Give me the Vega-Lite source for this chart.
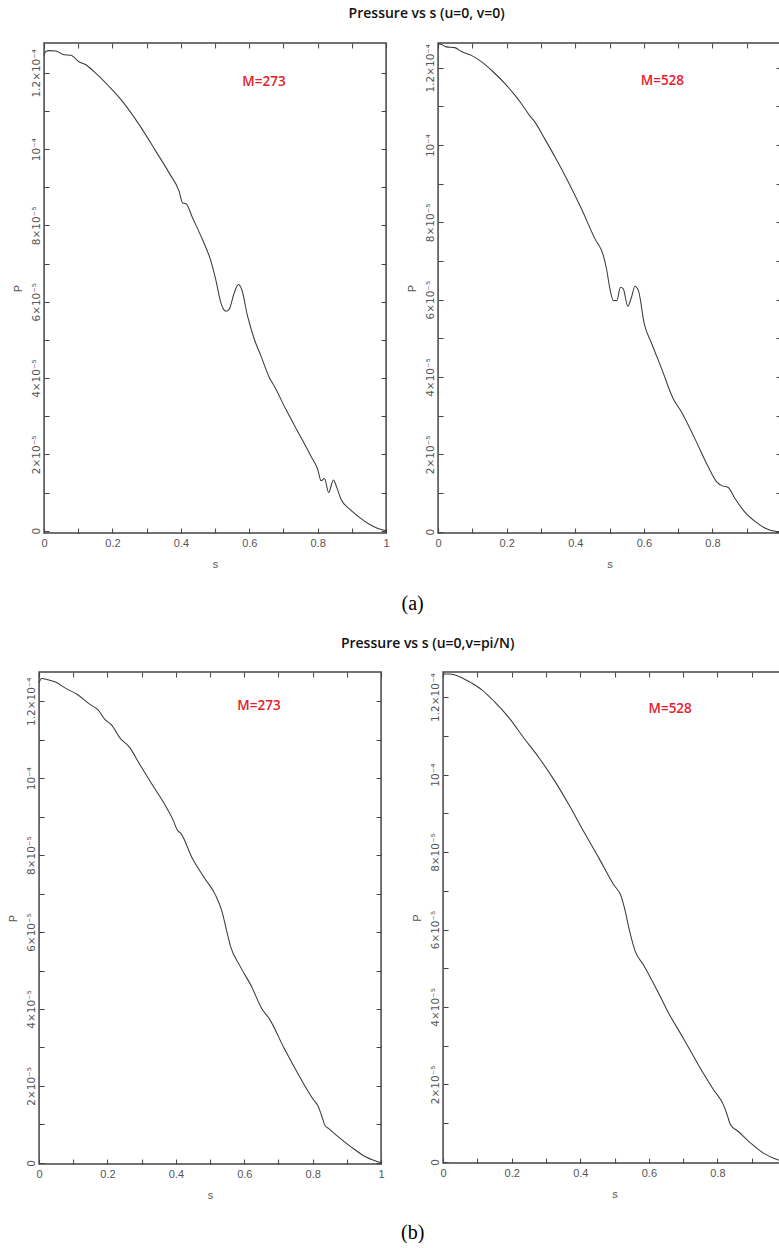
{
  "$schema": "https://vega.github.io/schema/vega-lite/v6.json",
  "background": "white",
  "padding": {"left": 6, "top": 6, "right": 0, "bottom": 0},
  "center": true,
  "spacing": 22,
  "config": {
    "view": {"stroke": "#444", "strokeWidth": 1.5},
    "axis": {
      "domain": false, "grid": false, "ticks": true, "tickSize": -5, "tickColor": "#444", "tickWidth": 1,
      "labelFont": "Liberation Sans", "labelFontSize": 11, "labelColor": "#555", "labelFlush": false, "labelOverlap": false,
      "titleFont": "Liberation Sans", "titleFontSize": 11, "titleFontWeight": "normal", "titleColor": "#555"
    },
    "axisLeft": {"labelFont": "DejaVu Sans", "labelFontSize": 10.5},
    "line": {"color": "#3a3a3a", "strokeWidth": 1.05, "interpolate": "monotone"},
    "title": {"font": "Open Sans", "fontSize": 14, "fontWeight": 600, "color": "#111", "anchor": "middle"}
  },
  "datasets": {
    "a273": [
      {"s": 0, "P": 12.45e-5}, {"s": 0.005, "P": 12.56e-5}, {"s": 0.015, "P": 12.58e-5}, {"s": 0.034, "P": 12.57e-5},
      {"s": 0.059, "P": 12.47e-5}, {"s": 0.078, "P": 12.46e-5}, {"s": 0.102, "P": 12.29e-5}, {"s": 0.122, "P": 12.21e-5},
      {"s": 0.151, "P": 11.99e-5}, {"s": 0.19, "P": 11.64e-5}, {"s": 0.229, "P": 11.25e-5}, {"s": 0.278, "P": 10.64e-5},
      {"s": 0.327, "P": 9.94e-5}, {"s": 0.366, "P": 9.37e-5}, {"s": 0.395, "P": 8.89e-5}, {"s": 0.405, "P": 8.59e-5},
      {"s": 0.415, "P": 8.57e-5}, {"s": 0.434, "P": 8.2e-5}, {"s": 0.463, "P": 7.63e-5}, {"s": 0.488, "P": 7.06e-5},
      {"s": 0.502, "P": 6.58e-5}, {"s": 0.517, "P": 5.97e-5}, {"s": 0.525, "P": 5.8e-5}, {"s": 0.532, "P": 5.75e-5},
      {"s": 0.541, "P": 5.8e-5}, {"s": 0.556, "P": 6.23e-5}, {"s": 0.568, "P": 6.45e-5}, {"s": 0.578, "P": 6.32e-5},
      {"s": 0.595, "P": 5.62e-5}, {"s": 0.615, "P": 5.01e-5}, {"s": 0.634, "P": 4.58e-5}, {"s": 0.659, "P": 4.01e-5},
      {"s": 0.673, "P": 3.79e-5}, {"s": 0.707, "P": 3.18e-5}, {"s": 0.746, "P": 2.53e-5}, {"s": 0.78, "P": 1.96e-5},
      {"s": 0.8, "P": 1.61e-5}, {"s": 0.81, "P": 1.31e-5}, {"s": 0.82, "P": 1.37e-5}, {"s": 0.832, "P": 1.0e-5},
      {"s": 0.846, "P": 1.33e-5}, {"s": 0.856, "P": 1.13e-5}, {"s": 0.868, "P": 0.83e-5}, {"s": 0.893, "P": 0.57e-5},
      {"s": 0.922, "P": 0.35e-5}, {"s": 0.951, "P": 0.17e-5}, {"s": 0.976, "P": 0.06e-5}, {"s": 1.0, "P": 0}
    ],
    "a528": [
      {"s": 0, "P": 12.62e-5}, {"s": 0.01, "P": 12.6e-5}, {"s": 0.024, "P": 12.54e-5}, {"s": 0.049, "P": 12.52e-5},
      {"s": 0.068, "P": 12.42e-5}, {"s": 0.097, "P": 12.32e-5}, {"s": 0.127, "P": 12.15e-5}, {"s": 0.161, "P": 11.89e-5},
      {"s": 0.195, "P": 11.59e-5}, {"s": 0.224, "P": 11.29e-5}, {"s": 0.243, "P": 11.07e-5}, {"s": 0.268, "P": 10.75e-5},
      {"s": 0.282, "P": 10.6e-5}, {"s": 0.311, "P": 10.16e-5}, {"s": 0.341, "P": 9.69e-5}, {"s": 0.38, "P": 9.04e-5},
      {"s": 0.418, "P": 8.35e-5}, {"s": 0.457, "P": 7.58e-5}, {"s": 0.482, "P": 7.14e-5}, {"s": 0.491, "P": 6.8e-5},
      {"s": 0.501, "P": 6.28e-5}, {"s": 0.511, "P": 5.98e-5}, {"s": 0.521, "P": 5.98e-5}, {"s": 0.532, "P": 6.32e-5},
      {"s": 0.54, "P": 6.28e-5}, {"s": 0.553, "P": 5.83e-5}, {"s": 0.564, "P": 6.07e-5}, {"s": 0.574, "P": 6.35e-5},
      {"s": 0.584, "P": 6.24e-5}, {"s": 0.601, "P": 5.38e-5}, {"s": 0.623, "P": 4.86e-5}, {"s": 0.652, "P": 4.21e-5},
      {"s": 0.686, "P": 3.43e-5}, {"s": 0.71, "P": 3.09e-5}, {"s": 0.749, "P": 2.4e-5}, {"s": 0.788, "P": 1.67e-5},
      {"s": 0.813, "P": 1.28e-5}, {"s": 0.827, "P": 1.19e-5}, {"s": 0.845, "P": 1.15e-5}, {"s": 0.866, "P": 0.85e-5},
      {"s": 0.895, "P": 0.5e-5}, {"s": 0.925, "P": 0.26e-5}, {"s": 0.954, "P": 0.09e-5}, {"s": 0.983, "P": 0.01e-5},
      {"s": 1.0, "P": 0}
    ],
    "b273": [
      {"s": 0, "P": 12.48e-5}, {"s": 0.007, "P": 12.59e-5}, {"s": 0.026, "P": 12.56e-5}, {"s": 0.048, "P": 12.5e-5},
      {"s": 0.077, "P": 12.34e-5}, {"s": 0.113, "P": 12.17e-5}, {"s": 0.15, "P": 11.91e-5}, {"s": 0.172, "P": 11.78e-5},
      {"s": 0.193, "P": 11.52e-5}, {"s": 0.211, "P": 11.39e-5}, {"s": 0.237, "P": 11.04e-5}, {"s": 0.263, "P": 10.82e-5},
      {"s": 0.295, "P": 10.35e-5}, {"s": 0.331, "P": 9.83e-5}, {"s": 0.368, "P": 9.31e-5}, {"s": 0.394, "P": 8.87e-5},
      {"s": 0.404, "P": 8.65e-5}, {"s": 0.414, "P": 8.57e-5}, {"s": 0.448, "P": 7.92e-5}, {"s": 0.484, "P": 7.4e-5},
      {"s": 0.516, "P": 6.96e-5}, {"s": 0.535, "P": 6.53e-5}, {"s": 0.549, "P": 6.01e-5}, {"s": 0.56, "P": 5.62e-5},
      {"s": 0.586, "P": 5.14e-5}, {"s": 0.622, "P": 4.57e-5}, {"s": 0.651, "P": 4.01e-5}, {"s": 0.673, "P": 3.75e-5},
      {"s": 0.717, "P": 2.97e-5}, {"s": 0.76, "P": 2.27e-5}, {"s": 0.804, "P": 1.62e-5}, {"s": 0.815, "P": 1.49e-5},
      {"s": 0.826, "P": 1.23e-5}, {"s": 0.836, "P": 0.97e-5}, {"s": 0.847, "P": 0.89e-5}, {"s": 0.876, "P": 0.67e-5},
      {"s": 0.913, "P": 0.41e-5}, {"s": 0.956, "P": 0.15e-5}, {"s": 1.0, "P": 0}
    ],
    "b528": [
      {"s": 0, "P": 12.6e-5}, {"s": 0.019, "P": 12.6e-5}, {"s": 0.048, "P": 12.53e-5}, {"s": 0.084, "P": 12.36e-5},
      {"s": 0.113, "P": 12.19e-5}, {"s": 0.149, "P": 11.89e-5}, {"s": 0.193, "P": 11.46e-5}, {"s": 0.236, "P": 10.94e-5},
      {"s": 0.28, "P": 10.43e-5}, {"s": 0.323, "P": 9.87e-5}, {"s": 0.367, "P": 9.22e-5}, {"s": 0.41, "P": 8.53e-5},
      {"s": 0.454, "P": 7.85e-5}, {"s": 0.497, "P": 7.16e-5}, {"s": 0.519, "P": 6.86e-5}, {"s": 0.529, "P": 6.55e-5},
      {"s": 0.544, "P": 5.95e-5}, {"s": 0.56, "P": 5.44e-5}, {"s": 0.584, "P": 5.09e-5}, {"s": 0.628, "P": 4.36e-5},
      {"s": 0.657, "P": 3.85e-5}, {"s": 0.7, "P": 3.2e-5}, {"s": 0.744, "P": 2.51e-5}, {"s": 0.788, "P": 1.87e-5},
      {"s": 0.819, "P": 1.44e-5}, {"s": 0.828, "P": 1.22e-5}, {"s": 0.838, "P": 0.96e-5}, {"s": 0.86, "P": 0.79e-5},
      {"s": 0.896, "P": 0.49e-5}, {"s": 0.933, "P": 0.23e-5}, {"s": 0.973, "P": 0.06e-5}, {"s": 1.0, "P": 0}
    ],
    "labels": [
      {"panel": "a1", "s": 0.643, "P": 11.77e-5, "label": "M=273"},
      {"panel": "a2", "s": 0.654, "P": 11.66e-5, "label": "M=528"},
      {"panel": "b1", "s": 0.643, "P": 11.87e-5, "label": "M=273"},
      {"panel": "b2", "s": 0.662, "P": 11.7e-5, "label": "M=528"}
    ]
  },
  "vconcat": [
    {
      "title": {"text": "(a)", "orient": "bottom", "font": "Liberation Serif", "fontSize": 20, "fontWeight": "normal", "color": "#000", "offset": 24, "dx": 15},
      "vconcat": [
        {
          "title": {"text": "Pressure vs s (u=0, v=0)", "offset": 20, "dx": 29},
          "spacing": 15,
          "hconcat": [
            {
              "width": 342, "height": 490,
              "layer": [
                {
                  "data": {"name": "a273"},
                  "mark": {"type": "line"},
                  "encoding": {
                    "x": {"field": "s", "type": "quantitative", "scale": {"domain": [0, 1], "nice": false, "zero": false},
                      "axis": {"orient": "bottom", "values": [0, 0.1, 0.2, 0.3, 0.4, 0.5, 0.6, 0.7, 0.8, 0.9, 1], "labelExpr": "round(datum.value*10) % 2 == 1 ? '' : format(datum.value, '~g')", "labelPadding": 9, "title": "s", "titlePadding": 10}},
                    "y": {"field": "P", "type": "quantitative", "scale": {"domain": [-6e-7, 1.278e-4], "nice": false, "zero": false},
                      "axis": {"orient": "left", "values": [0, 1e-5, 2e-5, 3e-5, 4e-5, 5e-5, 6e-5, 7e-5, 8e-5, 9e-5, 1e-4, 1.1e-4, 1.2e-4], "labelExpr": "datum.value < 1e-7 ? '0' : (round(datum.value*1e5) % 2 == 1 ? '' : (round(datum.value*1e5) < 10 ? round(datum.value*1e5) + '×10⁻⁵' : (round(datum.value*1e5) == 10 ? '10⁻⁴' : '1.2×10⁻⁴')))", "labelAngle": 270, "labelAlign": "center", "labelBaseline": "bottom", "labelPadding": 8, "title": "P", "titlePadding": 8}}
                  }
                },
                {
                  "data": {"name": "labels"},
                  "transform": [{"filter": "datum.panel == 'a1'"}],
                  "mark": {"type": "text", "color": "#e3202b", "font": "Open Sans", "fontSize": 13.5, "fontWeight": 600},
                  "encoding": {
                    "x": {"field": "s", "type": "quantitative", "scale": {"domain": [0, 1], "nice": false, "zero": false},
                      "axis": {"orient": "top", "values": [0, 0.1, 0.2, 0.3, 0.4, 0.5, 0.6, 0.7, 0.8, 0.9, 1], "labels": false, "title": null}},
                    "y": {"field": "P", "type": "quantitative", "scale": {"domain": [-6e-7, 1.278e-4], "nice": false, "zero": false},
                      "axis": {"orient": "right", "values": [0, 1e-5, 2e-5, 3e-5, 4e-5, 5e-5, 6e-5, 7e-5, 8e-5, 9e-5, 1e-4, 1.1e-4, 1.2e-4], "labels": false, "title": null}},
                    "text": {"field": "label"}
                  }
                }
              ],
              "resolve": {"axis": {"x": "independent", "y": "independent"}}
            },
            {
              "width": 343, "height": 490,
              "layer": [
                {
                  "data": {"name": "a528"},
                  "mark": {"type": "line"},
                  "encoding": {
                    "x": {"field": "s", "type": "quantitative", "scale": {"domain": [0, 1], "nice": false, "zero": false},
                      "axis": {"orient": "bottom", "values": [0, 0.1, 0.2, 0.3, 0.4, 0.5, 0.6, 0.7, 0.8, 0.9, 1], "labelExpr": "(round(datum.value*10) % 2 == 1 || datum.value > 0.99) ? '' : format(datum.value, '~g')", "labelPadding": 9, "title": "s", "titlePadding": 10}},
                    "y": {"field": "P", "type": "quantitative", "scale": {"domain": [-3.5e-7, 1.264e-4], "nice": false, "zero": false},
                      "axis": {"orient": "left", "values": [0, 1e-5, 2e-5, 3e-5, 4e-5, 5e-5, 6e-5, 7e-5, 8e-5, 9e-5, 1e-4, 1.1e-4, 1.2e-4], "labelExpr": "datum.value < 1e-7 ? '0' : (round(datum.value*1e5) % 2 == 1 ? '' : (round(datum.value*1e5) < 10 ? round(datum.value*1e5) + '×10⁻⁵' : (round(datum.value*1e5) == 10 ? '10⁻⁴' : '1.2×10⁻⁴')))", "labelAngle": 270, "labelAlign": "center", "labelBaseline": "bottom", "labelPadding": 8, "title": "P", "titlePadding": 8}}
                  }
                },
                {
                  "data": {"name": "labels"},
                  "transform": [{"filter": "datum.panel == 'a2'"}],
                  "mark": {"type": "text", "color": "#e3202b", "font": "Open Sans", "fontSize": 13.5, "fontWeight": 600},
                  "encoding": {
                    "x": {"field": "s", "type": "quantitative", "scale": {"domain": [0, 1], "nice": false, "zero": false},
                      "axis": {"orient": "top", "values": [0, 0.1, 0.2, 0.3, 0.4, 0.5, 0.6, 0.7, 0.8, 0.9, 1], "labels": false, "title": null}},
                    "y": {"field": "P", "type": "quantitative", "scale": {"domain": [-3.5e-7, 1.264e-4], "nice": false, "zero": false},
                      "axis": {"orient": "right", "values": [0, 1e-5, 2e-5, 3e-5, 4e-5, 5e-5, 6e-5, 7e-5, 8e-5, 9e-5, 1e-4, 1.1e-4, 1.2e-4], "labels": false, "title": null}},
                    "text": {"field": "label"}
                  }
                }
              ],
              "resolve": {"axis": {"x": "independent", "y": "independent"}}
            }
          ]
        }
      ]
    },
    {
      "title": {"text": "(b)", "orient": "bottom", "font": "Liberation Serif", "fontSize": 20, "fontWeight": "normal", "color": "#000", "offset": 22, "dx": 15},
      "vconcat": [
        {
          "title": {"text": "Pressure vs s (u=0,v=pi/N)", "offset": 20, "dx": 30},
          "spacing": 25,
          "hconcat": [
            {
              "width": 342, "height": 492,
              "layer": [
                {
                  "data": {"name": "b273"},
                  "mark": {"type": "line"},
                  "encoding": {
                    "x": {"field": "s", "type": "quantitative", "scale": {"domain": [0, 1], "nice": false, "zero": false},
                      "axis": {"orient": "bottom", "values": [0, 0.1, 0.2, 0.3, 0.4, 0.5, 0.6, 0.7, 0.8, 0.9, 1], "labelExpr": "round(datum.value*10) % 2 == 1 ? '' : format(datum.value, '~g')", "labelPadding": 9, "title": "s", "titlePadding": 10}},
                    "y": {"field": "P", "type": "quantitative", "scale": {"domain": [-3e-7, 1.276e-4], "nice": false, "zero": false},
                      "axis": {"orient": "left", "values": [0, 1e-5, 2e-5, 3e-5, 4e-5, 5e-5, 6e-5, 7e-5, 8e-5, 9e-5, 1e-4, 1.1e-4, 1.2e-4], "labelExpr": "datum.value < 1e-7 ? '0' : (round(datum.value*1e5) % 2 == 1 ? '' : (round(datum.value*1e5) < 10 ? round(datum.value*1e5) + '×10⁻⁵' : (round(datum.value*1e5) == 10 ? '10⁻⁴' : '1.2×10⁻⁴')))", "labelAngle": 270, "labelAlign": "center", "labelBaseline": "bottom", "labelPadding": 8, "title": "P", "titlePadding": 8}}
                  }
                },
                {
                  "data": {"name": "labels"},
                  "transform": [{"filter": "datum.panel == 'b1'"}],
                  "mark": {"type": "text", "color": "#e3202b", "font": "Open Sans", "fontSize": 13.5, "fontWeight": 600},
                  "encoding": {
                    "x": {"field": "s", "type": "quantitative", "scale": {"domain": [0, 1], "nice": false, "zero": false},
                      "axis": {"orient": "top", "values": [0, 0.1, 0.2, 0.3, 0.4, 0.5, 0.6, 0.7, 0.8, 0.9, 1], "labels": false, "title": null}},
                    "y": {"field": "P", "type": "quantitative", "scale": {"domain": [-3e-7, 1.276e-4], "nice": false, "zero": false},
                      "axis": {"orient": "right", "values": [0, 1e-5, 2e-5, 3e-5, 4e-5, 5e-5, 6e-5, 7e-5, 8e-5, 9e-5, 1e-4, 1.1e-4, 1.2e-4], "labels": false, "title": null}},
                    "text": {"field": "label"}
                  }
                }
              ],
              "resolve": {"axis": {"x": "independent", "y": "independent"}}
            },
            {
              "width": 343, "height": 491,
              "layer": [
                {
                  "data": {"name": "b528"},
                  "mark": {"type": "line"},
                  "encoding": {
                    "x": {"field": "s", "type": "quantitative", "scale": {"domain": [0, 1], "nice": false, "zero": false},
                      "axis": {"orient": "bottom", "values": [0, 0.1, 0.2, 0.3, 0.4, 0.5, 0.6, 0.7, 0.8, 0.9, 1], "labelExpr": "(round(datum.value*10) % 2 == 1 || datum.value > 0.99) ? '' : format(datum.value, '~g')", "labelPadding": 9, "title": "s", "titlePadding": 10}},
                    "y": {"field": "P", "type": "quantitative", "scale": {"domain": [-3e-7, 1.265e-4], "nice": false, "zero": false},
                      "axis": {"orient": "left", "values": [0, 1e-5, 2e-5, 3e-5, 4e-5, 5e-5, 6e-5, 7e-5, 8e-5, 9e-5, 1e-4, 1.1e-4, 1.2e-4], "labelExpr": "datum.value < 1e-7 ? '0' : (round(datum.value*1e5) % 2 == 1 ? '' : (round(datum.value*1e5) < 10 ? round(datum.value*1e5) + '×10⁻⁵' : (round(datum.value*1e5) == 10 ? '10⁻⁴' : '1.2×10⁻⁴')))", "labelAngle": 270, "labelAlign": "center", "labelBaseline": "bottom", "labelPadding": 8, "title": "P", "titlePadding": 8}}
                  }
                },
                {
                  "data": {"name": "labels"},
                  "transform": [{"filter": "datum.panel == 'b2'"}],
                  "mark": {"type": "text", "color": "#e3202b", "font": "Open Sans", "fontSize": 13.5, "fontWeight": 600},
                  "encoding": {
                    "x": {"field": "s", "type": "quantitative", "scale": {"domain": [0, 1], "nice": false, "zero": false},
                      "axis": {"orient": "top", "values": [0, 0.1, 0.2, 0.3, 0.4, 0.5, 0.6, 0.7, 0.8, 0.9, 1], "labels": false, "title": null}},
                    "y": {"field": "P", "type": "quantitative", "scale": {"domain": [-3e-7, 1.265e-4], "nice": false, "zero": false},
                      "axis": {"orient": "right", "values": [0, 1e-5, 2e-5, 3e-5, 4e-5, 5e-5, 6e-5, 7e-5, 8e-5, 9e-5, 1e-4, 1.1e-4, 1.2e-4], "labels": false, "title": null}},
                    "text": {"field": "label"}
                  }
                }
              ],
              "resolve": {"axis": {"x": "independent", "y": "independent"}}
            }
          ]
        }
      ]
    }
  ]
}
